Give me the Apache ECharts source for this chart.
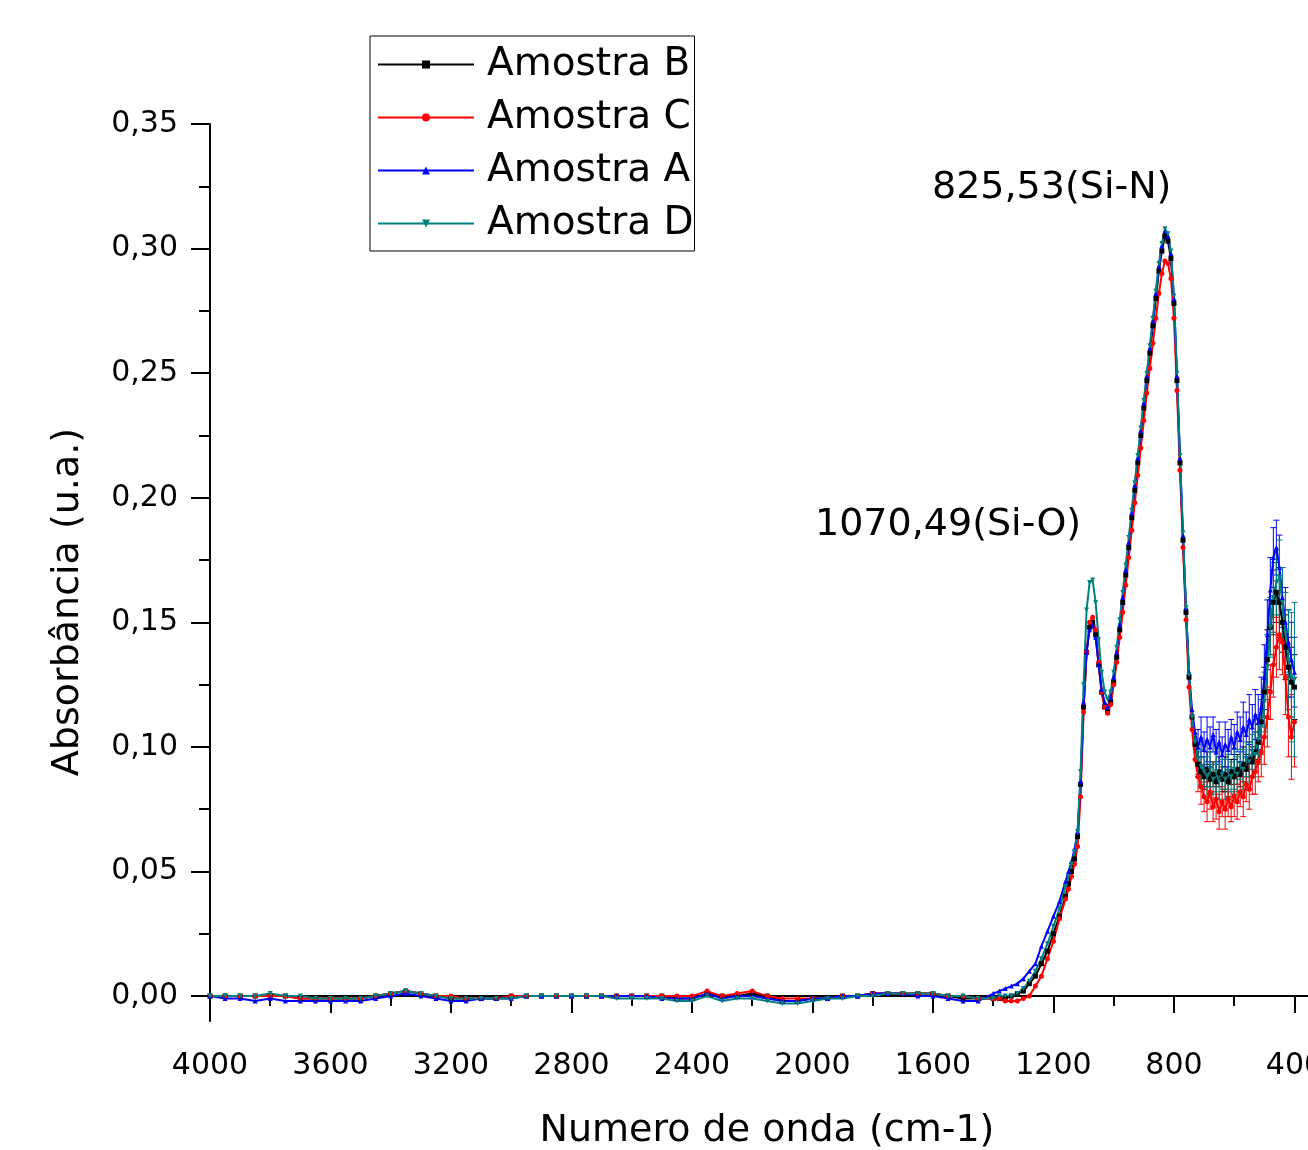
<!DOCTYPE html>
<html>
<head>
<meta charset="utf-8">
<script src="https://cdn.jsdelivr.net/npm/echarts@6/dist/echarts.min.js"></script>
<style>
  html, body { margin: 0; padding: 0; background: #fff; }
  #chart { width: 1308px; height: 1150px; }
</style>
</head>
<body>
<div id="chart"></div>
<script>
// wavenumbers (cm-1), shared by all samples
const waveNumbers = [
  4000, 3950, 3900, 3850, 3800, 3750, 3700, 3650, 3600, 3550,
  3500, 3450, 3400, 3350, 3300, 3250, 3200, 3150, 3100, 3050,
  3000, 2950, 2900, 2850, 2800, 2750, 2700, 2650, 2600, 2550,
  2500, 2450, 2400, 2350, 2300, 2250, 2200, 2150, 2100, 2050,
  2000, 1950, 1900, 1850, 1800, 1750, 1700, 1650, 1600, 1550,
  1500, 1450, 1400,
  1380, 1360, 1340, 1320, 1300, 1280, 1260, 1240, 1220, 1200, 1180, 1160,
  1150, 1140, 1130, 1120, 1110, 1100, 1090, 1080, 1070, 1060,
  1050, 1040, 1030, 1020, 1010, 1000, 990, 980, 970, 960,
  950, 940, 930, 920, 910, 900, 890, 880, 870, 860,
  850, 840, 830, 820, 810, 800, 790, 780, 770, 760,
  750, 740, 730, 720, 710, 700, 690, 680, 670, 660,
  650, 640, 630, 620, 610, 600, 590, 580, 570, 560,
  550, 540, 530, 520, 510, 500, 490, 480, 470, 460,
  450, 440, 430, 420, 410, 400
];

const amostraB = [
  0.000, 0.000, 0.000, 0.000, 0.000, 0.000, -0.001, -0.001, -0.001, -0.001,
  -0.001, 0.000, 0.001, 0.002, 0.001, 0.000, -0.001, -0.001, -0.001, -0.001,
  0.000, 0.000, 0.000, 0.000, 0.000, 0.000, 0.000, 0.000, 0.000, 0.000,
  0.000, -0.001, -0.001, 0.001, 0.000, 0.000, 0.001, 0.000, -0.002, -0.002,
  -0.001, -0.001, 0.000, 0.000, 0.001, 0.001, 0.001, 0.001, 0.001, 0.000,
  -0.001, -0.001, -0.001,
  -0.001, -0.001, 0.000, 0.001, 0.002, 0.005, 0.008, 0.013, 0.018, 0.025, 0.032, 0.040,
  0.045, 0.050, 0.055, 0.064, 0.085, 0.116, 0.138, 0.148, 0.150, 0.145,
  0.133, 0.122, 0.116, 0.114, 0.118, 0.126, 0.136, 0.147, 0.158, 0.169,
  0.180, 0.192, 0.203, 0.214, 0.225, 0.236, 0.247, 0.258, 0.269, 0.280,
  0.291, 0.299, 0.305, 0.303, 0.296, 0.278, 0.247, 0.214, 0.183, 0.154,
  0.128, 0.112, 0.101, 0.093, 0.090, 0.088, 0.091, 0.087, 0.089, 0.086,
  0.090, 0.087, 0.089, 0.086, 0.090, 0.088, 0.091, 0.089, 0.093, 0.091,
  0.095, 0.094, 0.098, 0.102, 0.110, 0.122, 0.135, 0.148, 0.158, 0.162,
  0.158, 0.150, 0.140, 0.132, 0.126, 0.124
];

const amostraC = [
  0.000, 0.000, 0.000, 0.000, 0.000, 0.000, -0.001, -0.001, -0.001, -0.001,
  -0.001, 0.000, 0.001, 0.002, 0.001, 0.000, 0.000, -0.001, -0.001, -0.001,
  0.000, 0.000, 0.000, 0.000, 0.000, 0.000, 0.000, 0.000, 0.000, 0.000,
  0.000, 0.000, 0.000, 0.002, 0.000, 0.001, 0.002, 0.000, -0.001, -0.001,
  -0.001, -0.001, 0.000, 0.000, 0.001, 0.001, 0.001, 0.001, 0.001, 0.000,
  0.000, -0.001, -0.001,
  -0.001, -0.002, -0.002, -0.002, -0.001, 0.000, 0.004, 0.008, 0.015, 0.022, 0.031, 0.039,
  0.043, 0.048, 0.053, 0.060, 0.080, 0.114, 0.138, 0.150, 0.152, 0.147,
  0.134, 0.122, 0.116, 0.1135, 0.117, 0.125, 0.134, 0.144, 0.154, 0.165,
  0.176, 0.187, 0.198, 0.209, 0.220, 0.231, 0.242, 0.252, 0.262, 0.272,
  0.282, 0.290, 0.295, 0.294, 0.288, 0.272, 0.243, 0.211, 0.180, 0.151,
  0.124, 0.107, 0.095, 0.088, 0.084, 0.080, 0.078, 0.082, 0.076, 0.079,
  0.074, 0.078, 0.075, 0.079, 0.076, 0.080, 0.078, 0.082, 0.080, 0.085,
  0.083, 0.088, 0.090, 0.094, 0.098, 0.104, 0.112, 0.122, 0.133, 0.140,
  0.145, 0.142, 0.128, 0.112, 0.104, 0.110
];

const amostraA = [
  0.000, -0.001, -0.001, -0.002, -0.001, -0.002, -0.002, -0.002, -0.002, -0.002,
  -0.002, -0.001, 0.000, 0.001, 0.000, -0.001, -0.002, -0.002, -0.001, -0.001,
  -0.001, 0.000, 0.000, 0.000, 0.000, 0.000, 0.000, 0.000, 0.000, 0.000,
  -0.001, -0.001, -0.001, 0.001, -0.001, 0.000, 0.000, -0.001, -0.002, -0.002,
  -0.001, -0.001, 0.000, 0.000, 0.001, 0.001, 0.001, 0.000, 0.000, -0.001,
  -0.002, -0.002, 0.001,
  0.002, 0.003, 0.004, 0.005, 0.007, 0.010, 0.013, 0.020, 0.026, 0.032, 0.038, 0.046,
  0.050, 0.054, 0.059, 0.066, 0.086, 0.118, 0.138, 0.147, 0.149, 0.144,
  0.133, 0.123, 0.118, 0.116, 0.120, 0.128, 0.138, 0.149, 0.160, 0.171,
  0.182, 0.194, 0.205, 0.216, 0.227, 0.238, 0.249, 0.260, 0.271, 0.282,
  0.293, 0.301, 0.307, 0.305, 0.298, 0.280, 0.249, 0.216, 0.185, 0.156,
  0.130, 0.115, 0.106, 0.100, 0.104, 0.099, 0.103, 0.100, 0.105, 0.098,
  0.102, 0.097, 0.101, 0.099, 0.104, 0.100, 0.106, 0.103, 0.108, 0.105,
  0.111, 0.108, 0.113, 0.110, 0.116, 0.128, 0.145, 0.163, 0.176, 0.180,
  0.172, 0.160, 0.150, 0.142, 0.135, 0.130
];

const amostraD = [
  0.000, 0.000, 0.000, 0.000, 0.001, 0.000, 0.000, -0.001, -0.001, -0.001,
  -0.001, 0.000, 0.001, 0.002, 0.001, 0.000, -0.001, -0.001, -0.001, -0.001,
  -0.001, 0.000, 0.000, 0.000, 0.000, 0.000, 0.000, -0.001, -0.001, -0.001,
  -0.001, -0.002, -0.002, 0.000, -0.002, -0.001, -0.001, -0.002, -0.003, -0.003,
  -0.002, -0.001, -0.001, 0.000, 0.000, 0.001, 0.001, 0.001, 0.001, 0.000,
  0.000, -0.001, -0.001,
  0.000, 0.000, 0.000, 0.001, 0.003, 0.006, 0.010, 0.015, 0.021, 0.028, 0.035, 0.044,
  0.048, 0.053, 0.058, 0.066, 0.090, 0.125, 0.155, 0.166, 0.167, 0.158,
  0.143, 0.130, 0.122, 0.119, 0.122, 0.130, 0.140, 0.151, 0.162, 0.173,
  0.184, 0.195, 0.206, 0.217, 0.228, 0.239, 0.250, 0.261, 0.272, 0.283,
  0.294, 0.302, 0.308, 0.306, 0.299, 0.281, 0.250, 0.217, 0.186, 0.156,
  0.129, 0.112, 0.102, 0.095, 0.092, 0.090, 0.088, 0.091, 0.087, 0.090,
  0.086, 0.089, 0.087, 0.090, 0.088, 0.091, 0.089, 0.093, 0.091, 0.095,
  0.094, 0.098, 0.097, 0.103, 0.108, 0.118, 0.132, 0.148, 0.160, 0.166,
  0.168, 0.158, 0.146, 0.135, 0.128, 0.127
];

// error bars (half width) in the noisy low-wavenumber region
const errorWaves = [
  720, 710, 700, 690, 680, 670, 660, 650, 640, 630,
  620, 610, 600, 590, 580, 570, 560, 550, 540, 530,
  520, 510, 500, 490, 480, 470, 460, 450, 440, 430,
  420, 410, 400
];
const errB = [
  0.005, 0.006, 0.005, 0.007, 0.006, 0.005, 0.007, 0.006, 0.005, 0.007,
  0.006, 0.005, 0.007, 0.006, 0.005, 0.007, 0.006, 0.007, 0.006, 0.008,
  0.007, 0.009, 0.010, 0.012, 0.011, 0.013, 0.012, 0.014, 0.012, 0.013,
  0.012, 0.014, 0.013
];
const errC = [
  0.006, 0.007, 0.006, 0.008, 0.007, 0.006, 0.008, 0.007, 0.006, 0.008,
  0.007, 0.006, 0.008, 0.007, 0.006, 0.008, 0.007, 0.008, 0.007, 0.009,
  0.008, 0.010, 0.011, 0.012, 0.011, 0.013, 0.012, 0.014, 0.013, 0.015,
  0.016, 0.017, 0.018
];
const errA = [
  0.007, 0.008, 0.007, 0.009, 0.008, 0.007, 0.009, 0.008, 0.007, 0.009,
  0.008, 0.007, 0.009, 0.008, 0.009, 0.010, 0.009, 0.010, 0.009, 0.010,
  0.011, 0.012, 0.013, 0.014, 0.013, 0.012, 0.011, 0.013, 0.012, 0.014,
  0.013, 0.015, 0.014
];
const errD = [
  0.006, 0.007, 0.006, 0.008, 0.007, 0.006, 0.008, 0.007, 0.006, 0.008,
  0.007, 0.006, 0.008, 0.007, 0.006, 0.008, 0.007, 0.008, 0.007, 0.009,
  0.010, 0.011, 0.012, 0.013, 0.012, 0.014, 0.013, 0.015, 0.014, 0.016,
  0.020, 0.026, 0.031
];

const xMajorTicks = [4000, 3600, 3200, 2800, 2400, 2000, 1600, 1200, 800, 400];
const xMinorTicks = [3800, 3400, 3000, 2600, 2200, 1800, 1400, 1000, 600];
const yMajorTicks = [0, 0.05, 0.10, 0.15, 0.20, 0.25, 0.30, 0.35];
const yMinorTicks = [0.025, 0.075, 0.125, 0.175, 0.225, 0.275, 0.325];

const samples = [
  { name: 'Amostra B', values: amostraB, errors: errB, color: '#000000', symbol: 'rect', rotate: 0 },
  { name: 'Amostra C', values: amostraC, errors: errC, color: '#ff0000', symbol: 'circle', rotate: 0 },
  { name: 'Amostra A', values: amostraA, errors: errA, color: '#0000ff', symbol: 'triangle', rotate: 0 },
  { name: 'Amostra D', values: amostraD, errors: errD, color: '#008080', symbol: 'triangle', rotate: 180 }
];

const FONT = '"DejaVu Sans", Arial, sans-serif';
const chart = echarts.init(document.getElementById('chart'));

const X_MIN = 355, X_MAX = 4000, Y_MIN = -0.01, Y_MAX = 0.35;

const baseX = {
  type: 'value', inverse: true, min: X_MIN, max: X_MAX, position: 'bottom',
  splitLine: { show: false }
};
const baseY = {
  type: 'value', min: Y_MIN, max: Y_MAX, position: 'left',
  splitLine: { show: false }
};

function errorBarSeries(s) {
  const data = errorWaves.map((w, i) => {
    const v = s.values[waveNumbers.indexOf(w)];
    return [w, v - s.errors[i], v + s.errors[i]];
  });
  return {
    name: s.name + ' err',
    type: 'custom',
    data: data,
    encode: { x: 0, y: [1, 2] },
    silent: true,
    renderItem: (params, api) => {
      const top = api.coord([api.value(0), api.value(2)]);
      const bot = api.coord([api.value(0), api.value(1)]);
      const cap = 3;
      const st = { stroke: s.color, lineWidth: 1 };
      return {
        type: 'group',
        children: [
          { type: 'line', shape: { x1: top[0], y1: top[1], x2: bot[0], y2: bot[1] }, style: st },
          { type: 'line', shape: { x1: top[0] - cap, y1: top[1], x2: top[0] + cap, y2: top[1] }, style: st },
          { type: 'line', shape: { x1: bot[0] - cap, y1: bot[1], x2: bot[0] + cap, y2: bot[1] }, style: st }
        ]
      };
    }
  };
}

function lineSeries(s) {
  return {
    name: s.name,
    type: 'line',
    data: waveNumbers.map((w, i) => [w, s.values[i]]),
    symbol: s.symbol,
    symbolRotate: s.rotate,
    symbolSize: 5,
    showSymbol: true,
    color: s.color,
    itemStyle: { color: s.color },
    lineStyle: { color: s.color, width: 2 },
    emphasis: { disabled: true }
  };
}

const series = [];
samples.forEach(s => {
  series.push(errorBarSeries(s));
  series.push(lineSeries(s));
});

const option = {
  animation: false,
  backgroundColor: '#fff',
  grid: { left: 210, right: 0, top: 124, bottom: 129, containLabel: false, outerBoundsMode: 'none' },
  legend: {
    data: samples.map(s => s.name),
    orient: 'vertical',
    left: 370,
    top: 36,
    padding: [9, 1, 8, 7],
    itemWidth: 96,
    itemHeight: 10,
    itemGap: 14,
    borderColor: '#000',
    borderWidth: 1,
    textStyle: { fontSize: 39, fontFamily: FONT, color: '#000', padding: [0, 0, 0, 8] }
  },
  xAxis: [
    Object.assign({}, baseX, {
      axisLine: { show: true, lineStyle: { color: '#000', width: 2 } },
      axisTick: { show: true, inside: false, length: 17, lineStyle: { color: '#000', width: 2 }, customValues: xMajorTicks },
      axisLabel: { show: true, margin: 30, fontSize: 30, fontFamily: FONT, color: '#000', customValues: xMajorTicks,
        hideOverlap: false, showMinLabel: true, showMaxLabel: true, formatter: v => String(v) }
    }),
    Object.assign({}, baseX, {
      axisLine: { show: false },
      axisTick: { show: true, inside: false, length: 10, lineStyle: { color: '#000', width: 2 }, customValues: xMinorTicks },
      axisLabel: { show: false }
    })
  ],
  yAxis: [
    Object.assign({}, baseY, {
      axisLine: { show: true, lineStyle: { color: '#000', width: 2 } },
      axisTick: { show: true, inside: false, length: 19, lineStyle: { color: '#000', width: 2 }, customValues: yMajorTicks },
      axisLabel: { show: true, margin: 32, fontSize: 30, fontFamily: FONT, color: '#000', customValues: yMajorTicks,
        formatter: v => v.toFixed(2).replace('.', ',') }
    }),
    Object.assign({}, baseY, {
      axisLine: { show: false },
      axisTick: { show: true, inside: false, length: 11, lineStyle: { color: '#000', width: 2 }, customValues: yMinorTicks },
      axisLabel: { show: false }
    })
  ],
  graphic: [
    { type: 'text', x: 68, y: 602, rotation: Math.PI / 2,
      style: { text: 'Absorbância (u.a.)', fontSize: 38, fontFamily: FONT, fill: '#000',
        align: 'center', verticalAlign: 'middle', textAlign: 'center', textVerticalAlign: 'middle' } },
    { type: 'text', x: 767, y: 1131,
      style: { text: 'Numero de onda (cm-1)', fontSize: 38, fontFamily: FONT, fill: '#000',
        align: 'center', verticalAlign: 'middle', textAlign: 'center', textVerticalAlign: 'middle' } },
    { type: 'text', x: 932, y: 188,
      style: { text: '825,53(Si-N)', fontSize: 38, fontFamily: FONT, fill: '#000',
        align: 'left', verticalAlign: 'middle', textAlign: 'left', textVerticalAlign: 'middle' } },
    { type: 'text', x: 815, y: 525,
      style: { text: '1070,49(Si-O)', fontSize: 38, fontFamily: FONT, fill: '#000',
        align: 'left', verticalAlign: 'middle', textAlign: 'left', textVerticalAlign: 'middle' } }
  ],
  series: series
};

chart.setOption(option);
</script>
</body>
</html>
